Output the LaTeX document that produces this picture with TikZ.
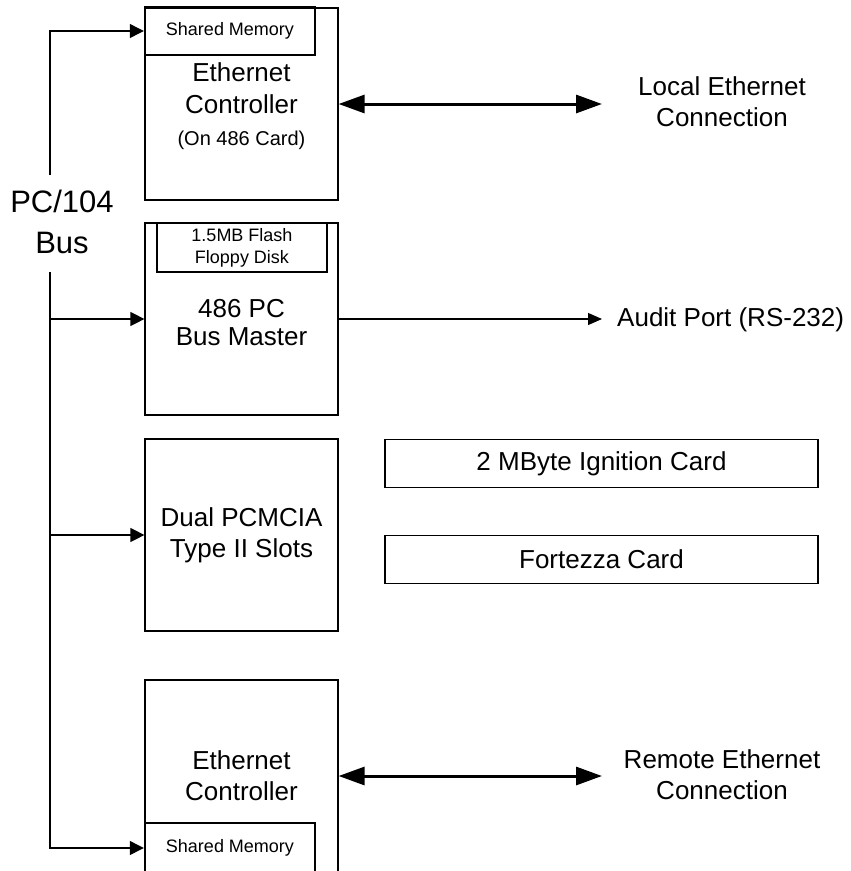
\documentclass[tikz,border=0pt]{standalone}
\usepackage{fontspec}
\setmainfont{Liberation Sans}
\usetikzlibrary{arrows.meta}
\begin{document}
\begin{tikzpicture}[x=1pt,y=-1pt,
  card/.style={draw, line width=1.2pt, minimum width=193pt, minimum height=192pt,
    inner sep=0pt, align=center, font=\fontsize{26}{31}\selectfont},
  sub/.style={draw, line width=2.4pt, inner sep=0pt, align=center,
    font=\fontsize{18}{22}\selectfont},
  slot/.style={draw, line width=1.2pt, minimum width=433pt, minimum height=48pt,
    inner sep=0pt, font=\fontsize{26}{31}\selectfont},
  txt/.style={align=center, inner sep=0pt, font=\fontsize{26}{31}\selectfont},
  bus/.style={line width=1.2pt, -{Triangle[length=14pt,width=14pt]}},
  link/.style={line width=3pt, {Triangle[length=26pt,width=18pt]}-{Triangle[length=26pt,width=18pt]}},
  serial/.style={line width=1.2pt, -{Triangle[length=14pt,width=12pt]}}
]
\useasboundingbox (0,0) rectangle (851,871);
\clip (0,0) rectangle (851,871);

% cards on the PC/104 stack
\node[card, font=\fontsize{26}{32}\selectfont] (eth1) at (241.5,104)
  {\rule{0pt}{24pt}Ethernet\\Controller\\\fontsize{20}{30}\selectfont (On 486 Card)};
\node[sub, minimum width=170pt, minimum height=48pt] (sm1) at (230,31) {Shared Memory};

\node[card, font=\fontsize{26}{28}\selectfont] (pc) at (241.5,319)
  {\rule{0pt}{25pt}486 PC\\Bus Master};
\node[sub, minimum width=170pt, minimum height=49pt] (flash) at (242,247.5) {1.5MB Flash\\Floppy Disk};

\node[card] (pcmcia) at (241.5,535) {Dual PCMCIA\\Type II Slots};

\node[card] (eth2) at (241.5,776) {Ethernet\\Controller};
\node[sub, minimum width=170pt, minimum height=50pt] (sm2) at (230,848) {Shared Memory};

% PCMCIA cards
\node[slot] (ign) at (601.5,463.5) {2 MByte Ignition Card};
\node[slot] (fort) at (601.5,559.5) {Fortezza Card};

% external connections
\node[txt] (local) at (722,102) {Local Ethernet\\Connection};
\node[txt, anchor=west] (audit) at (617,320) {Audit Port (RS-232)};
\node[txt] (remote) at (722,775) {Remote Ethernet\\Connection};

% bus label
\node[align=center, inner sep=0pt, font=\fontsize{31}{41}\selectfont] (busname) at (62,222) {PC/104\\Bus};

\coordinate (bustop) at (50,175);
\coordinate (busbot) at (50,272);
\coordinate (localend) at (602,104);
\coordinate (remoteend) at (602,776);

% bus connections
\draw[bus] (bustop) |- (sm1.west);
\draw[bus] (busbot) |- (sm2.west);
\draw[bus] (busbot |- pc.west) -- (pc.west);
\draw[bus] (busbot |- pcmcia.west) -- (pcmcia.west);

% network and serial links
\draw[link] (eth1.east) -- (localend);
\draw[link] (eth2.east) -- (remoteend);
\draw[serial] (pc.east) -- (pc.east -| localend);
\end{tikzpicture}
\end{document}
